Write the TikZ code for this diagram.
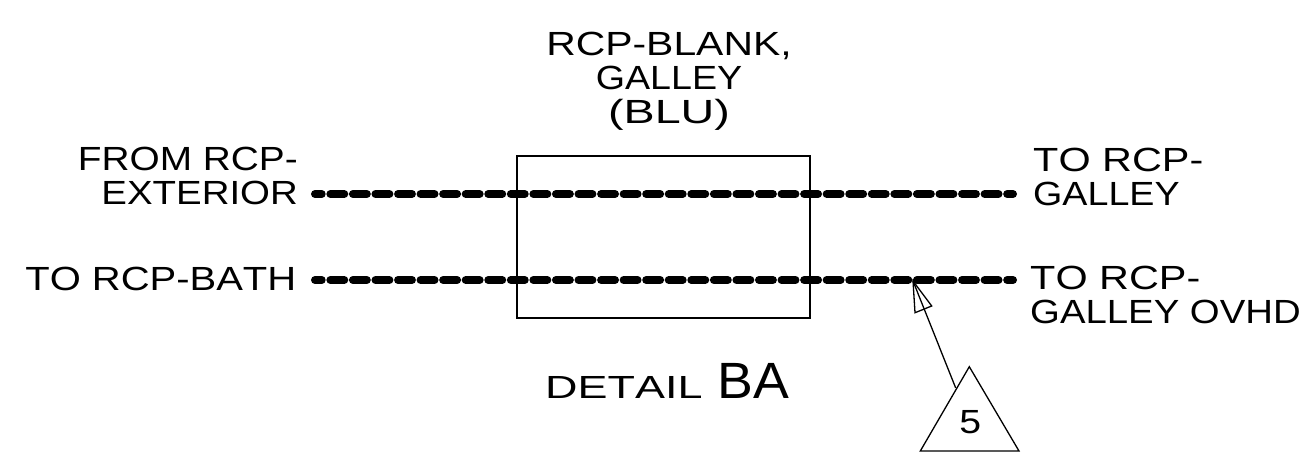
\documentclass[tikz,border=0pt]{standalone}
\usepackage{fontspec}
\setmainfont{Liberation Sans}[FakeStretch=1.17,Kerning=Off]
\newcommand{\sx}[2]{\scalebox{#1}[1]{#2}}
\tikzset{
  lbl/.style={inner sep=0pt,font=\fontsize{33.5}{34}\selectfont,align=left},
  wire/.style={line width=8pt,line cap=round,dash pattern=on 13.9pt off 8.66pt,dash phase=7.2pt},
  thin line/.style={line width=1.3pt}
}
\begin{document}
\begin{tikzpicture}[x=1pt,y=-1pt]
\useasboundingbox (0,0) rectangle (1308,464);
\node[lbl,align=center] (title) at (669,81) {\sx{1.043}{RCP-BLANK,}\\\sx{0.96}{GALLEY}\\\sx{1.19}{(BLU)}};
\node[draw,thin line,minimum width=293pt,minimum height=162pt,inner sep=0pt] (box) at (663.5,237) {};
\node[lbl,align=right,anchor=east] (fromext) at (298,175.5) {\sx{0.99}{FROM RCP-}\\\sx{0.98}{EXTERIOR}};
\node[lbl,anchor=east] (tobath) at (296.5,278.5) {\sx{1.02}{TO RCP-BATH}};
\node[lbl,anchor=west] (togal) at (1033,176.5) {\sx{1.056}{TO RCP-}\\\sx{0.96}{GALLEY}};
\node[lbl,anchor=west] (toovhd) at (1030,295) {\sx{1.056}{TO RCP-}\\\sx{0.978}{GALLEY OVHD}};
\coordinate (a1) at (315,194); \coordinate (a2) at (1013,194);
\coordinate (b1) at (315,280); \coordinate (b2) at (1013,280);
\draw[wire] (a1) -- (a2);
\draw[wire] (b1) -- (b2);
\node[inner sep=0pt,anchor=base west] (detail) at (545,398) {\fontsize{32}{36}\selectfont\sx{1.2}{DETAIL}\hspace{15pt}\fontsize{51}{54}\selectfont\sx{0.9}{BA}};
\coordinate (t1) at (969.3,366.7); \coordinate (t2) at (920.3,451); \coordinate (t3) at (1019,451);
\draw[thin line,line join=miter] (t1) -- (t2) -- (t3) -- cycle;
\node[inner sep=0pt,font=\fontsize{33.5}{34}\selectfont] (five) at (970.3,422.3) {5};
\coordinate (tip) at (913,281); \coordinate (tail) at (955.7,388);
\coordinate (hl) at (915,312.7); \coordinate (hr) at (931.7,306);
\draw[thin line] (tail) -- (tip);
\draw[thin line] (tip) -- (hl) -- (hr) -- cycle;
\end{tikzpicture}
\end{document}
